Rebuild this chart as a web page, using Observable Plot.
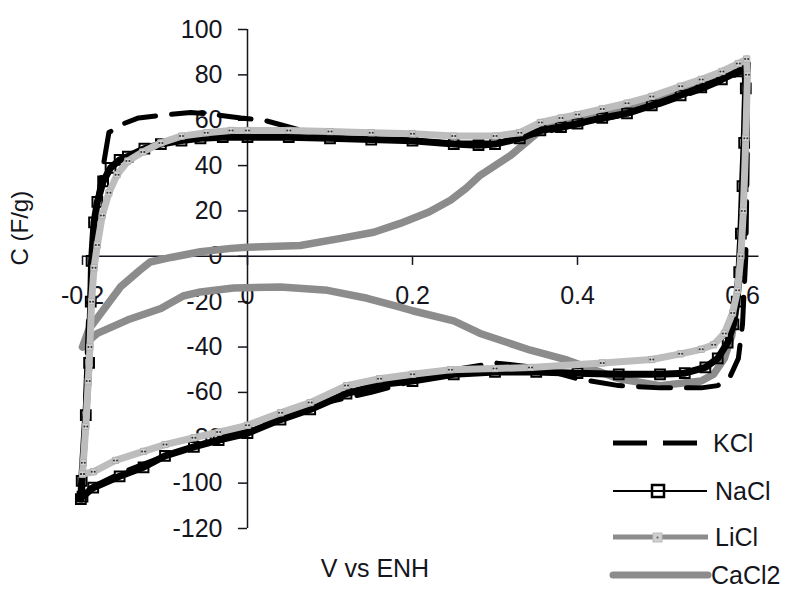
<!DOCTYPE html>
<html>
<head>
<meta charset="utf-8">
<script src="https://cdn.jsdelivr.net/npm/d3@7"></script>
<script src="https://cdn.jsdelivr.net/npm/@observablehq/plot@0.6"></script>
<style>
  html, body { margin: 0; padding: 0; background: #fff; }
  #wrap { position: relative; width: 793px; height: 590px; overflow: hidden; font-family: "Liberation Sans", Arial, Helvetica, sans-serif; }
  #legend { position: absolute; left: 600px; top: 418px; }
</style>
</head>
<body>
<div id="wrap"></div>
<script>
// ---- axis ticks ----
const xTicks = [-0.2, 0, 0.2, 0.4, 0.6];
const xTickLabels = ["-0.2", "0", "0.2", "0.4", "0.6"];
const yTicks = [100, 80, 60, 40, 20, 0, -20, -40, -60, -80, -100, -120];
const yTickLabels = ["100", "80", "60", "40", "20", "0", "-20", "-40", "-60", "-80", "-100", "-120"];
const xTitle = "V vs ENH";
const yTitle = "C (F/g)";
const seriesNames = ["KCl", "NaCl", "LiCl", "CaCl2"];

// ---- KCl (V, C) loop ----
const kclV = [-0.2, -0.197, -0.193, -0.188, -0.184, -0.177, -0.172, -0.168, -0.15, -0.132, -0.109, -0.069, -0.04, -0.008, 0.02, 0.05, 0.08, 0.12, 0.2, 0.25, 0.3, 0.35, 0.4, 0.45, 0.5, 0.55, 0.58, 0.6, 0.605,
  0.606, 0.604, 0.6, 0.595, 0.585, 0.57, 0.55, 0.5, 0.45, 0.4, 0.35, 0.3, 0.25, 0.2, 0.15, 0.1, 0.05, 0, -0.05, -0.1, -0.15, -0.19, -0.2];
const kclC = [-106, -70, -30, 0, 20, 35, 46, 54.6, 58.5, 61, 62, 63.4, 62.5, 61, 60, 57, 54, 52, 51, 50, 50, 54, 58, 62, 67, 73.5, 78, 81.5, 82,
  50, 0, -30, -45, -53, -57, -58, -58, -57, -54, -49, -47, -50, -55, -60, -64, -70, -76, -82, -88, -95, -102, -106];

// ---- NaCl (V, C) loop ----
const naclV = [-0.202, -0.201, -0.196, -0.192, -0.19, -0.189, -0.186, -0.182, -0.175, -0.166, -0.155, -0.145, -0.125, -0.105, -0.08, -0.057, -0.03, 0, 0.05, 0.1, 0.15, 0.2, 0.25, 0.28, 0.3, 0.33, 0.355, 0.38, 0.4, 0.43, 0.46, 0.49, 0.525, 0.55, 0.575, 0.595, 0.603,
  0.604, 0.602, 0.6, 0.598, 0.596, 0.593, 0.589, 0.582, 0.57, 0.555, 0.53, 0.5, 0.45, 0.4, 0.35, 0.3, 0.25, 0.2, 0.16, 0.12, 0.076, 0.04, 0, -0.035, -0.065, -0.1, -0.126, -0.155, -0.187, -0.2];
const naclC = [-107, -99, -70, -47, -20, -2, 15, 24, 33, 39, 42.5, 44, 47.5, 49.5, 51, 52, 52.5, 52.5, 52.5, 52, 51.5, 51, 49.5, 49, 49.5, 52, 55.5, 57, 58.5, 61, 63, 66.5, 71, 74.5, 78, 81.5, 83,
  74, 50, 31, 10, -7, -20, -30, -38, -45, -49, -51.5, -52, -52, -51.5, -51, -51, -52, -55, -56.5, -60.5, -67.5, -72, -78, -81, -84, -88, -93, -97, -102, -106];

// ---- LiCl (V, C) loop ----
const liclV = [-0.2, -0.199, -0.196, -0.193, -0.191, -0.189, -0.186, -0.182, -0.176, -0.168, -0.158, -0.145, -0.127, -0.105, -0.08, -0.05, -0.02, 0, 0.05, 0.1, 0.15, 0.2, 0.25, 0.3, 0.33, 0.355, 0.38, 0.4, 0.43, 0.46, 0.49, 0.525, 0.55, 0.575, 0.595, 0.605,
  0.606, 0.604, 0.601, 0.598, 0.594, 0.588, 0.578, 0.565, 0.55, 0.525, 0.49, 0.43, 0.343, 0.3, 0.246, 0.2, 0.16, 0.12, 0.076, 0.04, 0, -0.035, -0.065, -0.1, -0.126, -0.16, -0.187, -0.2];
const liclC = [-96, -91, -75, -55, -40, -20, -5, 5, 18, 28, 36, 42, 46, 50, 53, 54.5, 55.5, 55.5, 55.5, 55, 54.5, 54, 53, 53, 54.5, 59, 61, 62.5, 65, 67.5, 70.5, 75, 78, 81.5, 85, 87,
  80, 52, 20, 0, -15, -25, -34, -39, -41, -43, -45.5, -47, -49, -49.5, -50, -52, -54, -57, -64.5, -69, -74.5, -77.5, -80, -83, -86, -90, -95, -96];

// ---- CaCl2 (V, C) loop ----
const cacl2V = [-0.2, -0.192, -0.175, -0.154, -0.13, -0.118, -0.093, -0.057, -0.02, 0, 0.064, 0.113, 0.153, 0.185, 0.22, 0.246, 0.265, 0.282, 0.3, 0.319, 0.337, 0.355, 0.38, 0.4, 0.45, 0.5, 0.55, 0.58, 0.6,
  0.604, 0.603, 0.6, 0.597, 0.593, 0.587, 0.578, 0.565, 0.55, 0.5, 0.45, 0.42, 0.388, 0.343, 0.282, 0.25, 0.2, 0.185, 0.145, 0.097, 0.04, -0.017, -0.057, -0.078, -0.105, -0.145, -0.182, -0.195, -0.2];
const cacl2C = [-40, -32, -23.8, -13.5, -6, -2.5, -0.5, 2, 3.5, 4, 4.8, 7.9, 10.6, 14.5, 19.5, 24.7, 30, 35.7, 40, 44.5, 50, 55.5, 58.5, 60.5, 64, 69, 75.5, 79.5, 83,
  80, 50, 20, 0, -20, -35, -45, -52, -55, -57, -54, -50, -45.8, -41.4, -34, -28.5, -24, -22.4, -18.5, -15, -13.5, -14, -15.7, -17.5, -23, -28, -34, -38, -40];

const toRows = (V, C) => V.map((v, i) => ({v, c: C[i]}));
const kcl = toRows(kclV, kclC);
const nacl = toRows(naclV, naclC);
const licl = toRows(liclV, liclC);
const cacl2 = toRows(cacl2V, cacl2C);

const ink = "#151520";
const font = "Liberation Sans, Arial, Helvetica, sans-serif";

const chart = Plot.plot({
  width: 793,
  height: 590,
  margin: 0,
  x: {domain: [-0.2, 0.6], range: [82, 742], axis: null},
  y: {domain: [-120, 100], range: [528, 29], axis: null},
  style: {fontFamily: font, background: "transparent", overflow: "visible"},
  marks: [
    // axes through the origin
    Plot.ruleY([0], {x1: -0.2, x2: 0.62, stroke: ink, strokeWidth: 1.5}),
    Plot.ruleX([0], {y1: -120, y2: 100, stroke: ink, strokeWidth: 1.5}),
    Plot.ruleX(xTicks, {x: d => d, y1: 0, y2: -4, stroke: ink, strokeWidth: 1.5}),
    Plot.ruleY(yTicks, {y: d => d, x1: -0.011, x2: 0, stroke: ink, strokeWidth: 1.5}),
    Plot.text(xTicks, {x: d => d, y: 0, dy: 40, text: (d, i) => xTickLabels[i], fontSize: 25, fill: ink}),
    Plot.text(yTicks, {x: 0, y: d => d, dx: -25, textAnchor: "end", text: (d, i) => yTickLabels[i], fontSize: 25, fill: ink}),
    Plot.text([yTitle], {frameAnchor: "left", dx: 20, dy: -30, rotate: -90, text: d => d, fontSize: 24, fill: ink}),
    Plot.text([xTitle], {frameAnchor: "bottom", dx: -22, dy: -14, text: d => d, fontSize: 25, fill: ink}),
    // series
    Plot.line(cacl2, {x: "v", y: "c", stroke: "#8c8c8c", strokeWidth: 7.5, strokeLinejoin: "round", strokeLinecap: "round"}),
    Plot.line(kcl, {x: "v", y: "c", stroke: "#000", strokeWidth: 5, strokeDasharray: "32,16"}),
    Plot.line(nacl, {x: "v", y: "c", stroke: "#000", strokeWidth: 7, strokeLinejoin: "round"}),
    Plot.dot(nacl, {x: "v", y: "c", symbol: "square", r: 5.5, stroke: "#000", strokeWidth: 2, fill: "none"}),
    Plot.line(licl, {x: "v", y: "c", stroke: "#bdbdbd", strokeWidth: 7, strokeLinejoin: "round"}),
    Plot.dot(licl, {x: "v", y: "c", symbol: "square", r: 3.5, fill: "#cfcfcf", stroke: "#b0b0b0", strokeWidth: 1}),
    Plot.dot(licl, {x: "v", y: "c", r: 1, fill: "#333", dx: -1.5}),
    Plot.dot(licl, {x: "v", y: "c", r: 1, fill: "#333", dx: 1.5})
  ]
});

const wrap = document.getElementById("wrap");
wrap.appendChild(chart);

// ---- legend (HTML overlay, real text) ----
const NS = "http://www.w3.org/2000/svg";
const leg = document.createElementNS(NS, "svg");
leg.setAttribute("id", "legend");
leg.setAttribute("width", 193);
leg.setAttribute("height", 172);
const rowsY = [25, 73, 119, 157];
function el(tag, attrs, parent) {
  const e = document.createElementNS(NS, tag);
  for (const k in attrs) e.setAttribute(k, attrs[k]);
  parent.appendChild(e);
  return e;
}
// KCl
el("line", {x1: 13, x2: 97, y1: rowsY[0], y2: rowsY[0], stroke: "#000", "stroke-width": 5, "stroke-dasharray": "34,16"}, leg);
// NaCl
el("line", {x1: 13, x2: 107, y1: rowsY[1], y2: rowsY[1], stroke: "#000", "stroke-width": 2}, leg);
el("rect", {x: 52, y: rowsY[1] - 6, width: 12, height: 12, fill: "none", stroke: "#000", "stroke-width": 2.5}, leg);
// LiCl
el("line", {x1: 13, x2: 108, y1: rowsY[2], y2: rowsY[2], stroke: "#8c8c8c", "stroke-width": 5}, leg);
el("rect", {x: 53, y: rowsY[2] - 4, width: 9, height: 9, fill: "#cfcfcf", stroke: "#bbb", "stroke-width": 1}, leg);
el("circle", {cx: 57.5, cy: rowsY[2] + 0.5, r: 1, fill: "#555"}, leg);
// CaCl2
el("line", {x1: 13, x2: 108, y1: rowsY[3], y2: rowsY[3], stroke: "#8c8c8c", "stroke-width": 7, "stroke-linecap": "round"}, leg);
const textX = [113, 115, 115, 111];
seriesNames.forEach((name, i) => {
  const t = el("text", {x: textX[i], y: rowsY[i], "dominant-baseline": "central", "font-size": 25, fill: ink, "font-family": font}, leg);
  t.textContent = name;
});
wrap.appendChild(leg);
</script>
</body>
</html>
